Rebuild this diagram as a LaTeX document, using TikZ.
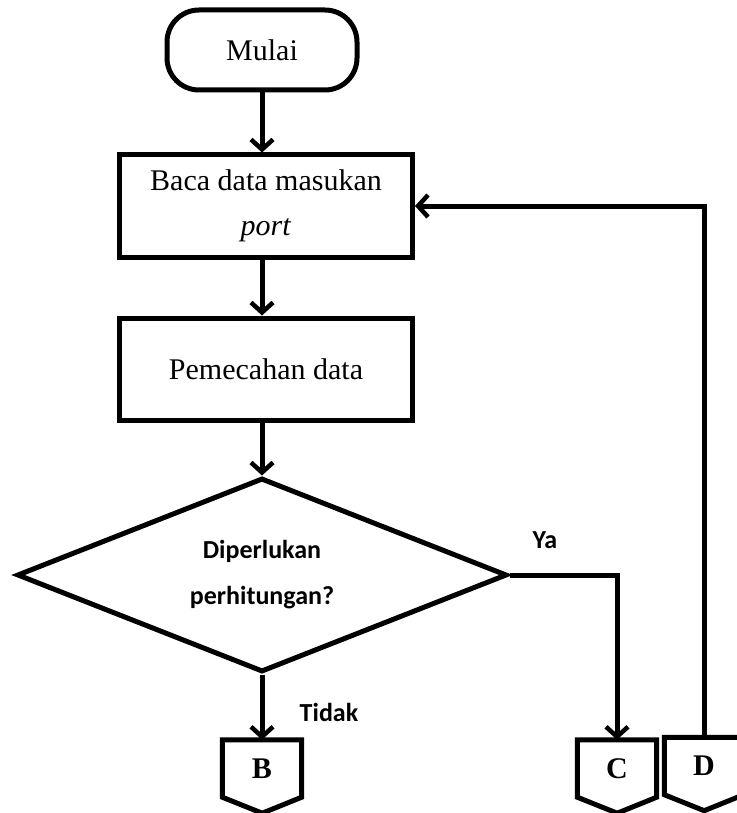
\documentclass[tikz,border=0pt]{standalone}
\usepackage{fontspec}
\setmainfont{Liberation Serif}
\newfontfamily\labelfont{Carlito}
\usetikzlibrary{shapes.geometric,arrows.meta}
\begin{document}
\begin{tikzpicture}[x=1pt,y=-1pt,
  every node/.style={font=\fontsize{30}{36}\selectfont},
  outline/.style={draw=black,line width=5pt},
  procbox/.style={outline,rectangle,minimum width=293pt,minimum height=102pt,align=center,inner sep=0pt},
  termbox/.style={outline,rectangle,rounded corners=32pt,minimum width=190pt,minimum height=80pt},
  decbox/.style={outline,diamond,aspect=2.5,minimum width=490pt,minimum height=194pt,inner sep=0pt,align=center,font=\labelfont\bfseries\fontsize{26}{46}\selectfont},
  offpage/.style={rectangle,minimum width=79pt,minimum height=57pt,inner sep=0pt,font=\bfseries\fontsize{30}{36}\selectfont},
  offline/.style={line width=5pt,line join=miter},
  conn/.style={line width=5pt,-{Straight Barb[length=10pt,width=22pt,line width=4.5pt]}},
  lbl/.style={font=\labelfont\bfseries\fontsize{26}{30}\selectfont}]
\useasboundingbox (0,0) rectangle (736,813);
\node[termbox] (start) at (262,50) {Mulai};
\node[procbox] (read) at (266,206) {Baca data masukan\\[9pt]\textit{port}};
\node[procbox] (split) at (266,369) {Pemecahan data};
\node[decbox] (dec) at (262,575) {Diperlukan\\perhitungan?};
\node[offpage] (B) at (262,768.5) {\raisebox{-4pt}{B}};
\node[offpage] (C) at (617,768.5) {\raisebox{-4pt}{C}};
\node[offpage] (D) at (704,766) {\raisebox{-4pt}{D}};
\foreach \n in {B,C,D}{
  \draw[offline] (\n.north west) -- (\n.north east) -- (\n.south east) -- ++(-39.5,16) -- (\n.south west) -- cycle;
}
\node[lbl] (ya) at (545,540) {Ya};
\node[lbl] (tidak) at (329,712) {Tidak};
\draw[conn] (start.south) -- (start.south |- read.north);
\draw[conn] (start.south |- read.south) -- (start.south |- split.north);
\draw[conn] (start.south |- split.south) -- (dec.north);
\draw[conn] (dec.south) -- (dec.south |- B.north);
\draw[conn] (dec.east) -| (C.north);
\draw[conn] (D.north) |- (read.east);
\end{tikzpicture}
\end{document}
